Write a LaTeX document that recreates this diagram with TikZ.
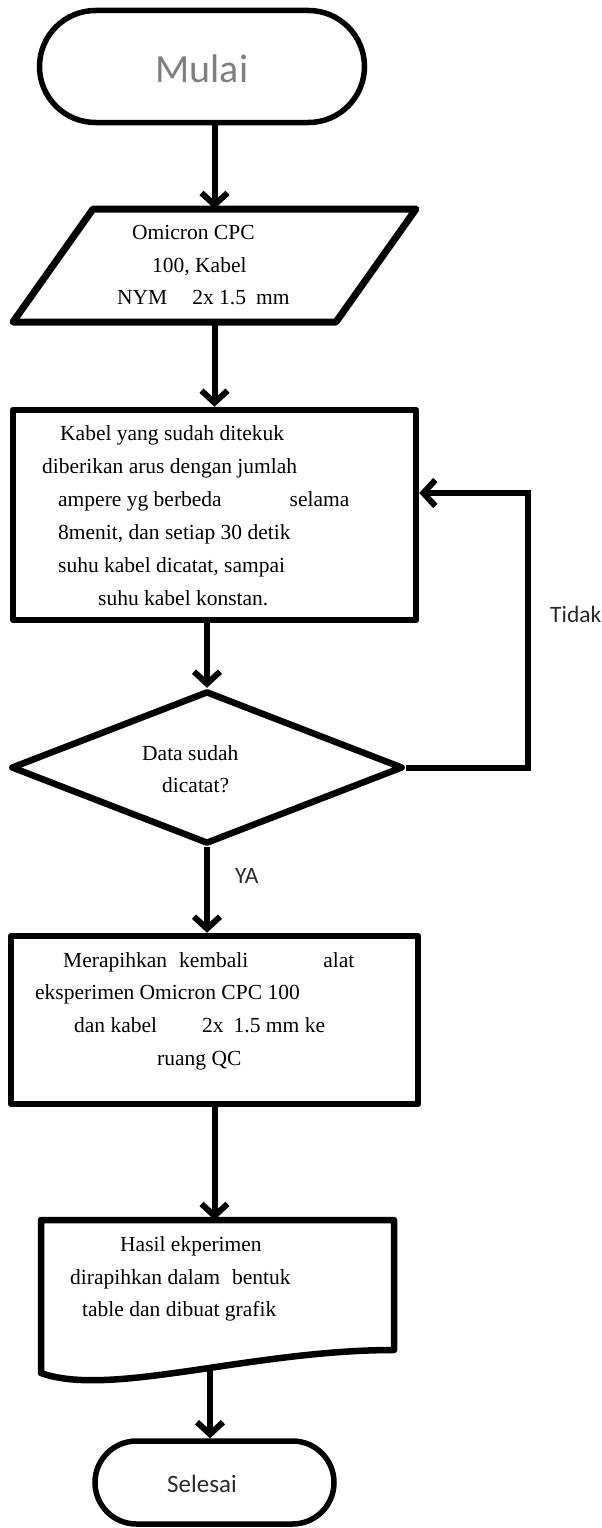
\documentclass[tikz,border=0pt]{standalone}
\usepackage{fontspec}
\setmainfont{Liberation Serif}
\newfontfamily\calfont{Carlito}
\usetikzlibrary{arrows.meta,calc,shapes.geometric}
\definecolor{mgray}{HTML}{7F7F7F}
\definecolor{tdark}{HTML}{2A2A2A}
\begin{document}
\begin{tikzpicture}[x=1pt,y=-1pt,
  shp/.style={draw, line width=6.5pt, line join=round, inner sep=0pt},
  term/.style={draw, line width=5.5pt, inner sep=0pt},
  ghost/.style={inner sep=0pt, outer sep=0pt},
  arr/.style={line width=6pt, -{Straight Barb[length=12pt,width=26pt]}},
  tx/.style={inner sep=0pt, anchor=north west, align=left},
  sans/.style={inner sep=0pt, text=tdark}]
\useasboundingbox (0,0) rectangle (602,1528);

% shapes
\node[term, minimum width=325pt, minimum height=112pt, rounded corners=56pt] (mulai) at (202,66.5) {};
\node[ghost, minimum width=403pt, minimum height=113pt] (inp) at (214.5,265.5) {};
\draw[shp, line width=7pt] ($(inp.north west)+(80,0)$) -- (inp.north east) -- ($(inp.south east)+(-80,0)$) -- (inp.south west) -- cycle;
\node[shp, rectangle, minimum width=403pt, minimum height=210pt] (b1) at (214.5,515) {};
\node[shp, diamond, minimum width=392pt, minimum height=153pt] (dec) at (207,767.5) {};
\node[shp, rectangle, minimum width=407pt, minimum height=168pt] (b2) at (214.5,1020) {};
\node[ghost, minimum width=353pt, minimum height=153pt] (doc) at (217.5,1296.5) {};
\draw[shp] ($(doc.south east)+(0,-23)$) -- (doc.north east) -- (doc.north west) -- (doc.south west)
  .. controls ($(doc.south west)+(69,25)$) and ($(doc.south west)+(209,-23)$) .. ($(doc.south east)+(0,-23)$) -- cycle;
\coordinate (w) at ($(doc.south west)+(169,-5)$);
\node[term, minimum width=239pt, minimum height=83pt, rounded corners=41.5pt] (sel) at (214.5,1482.5) {};

% texts
\node[sans, anchor=base, text=mgray, font=\calfont\fontsize{40}{48}\selectfont] (tm) at (202,82) {Mulai};
\node[tx, font=\fontsize{21.5}{32.5}\selectfont] (tinp) at (117,217)
  {\strut\hspace*{15pt}Omicron CPC\\ \strut\hspace*{35pt}100, Kabel\\ \strut NYM\hspace{25pt}2x 1.5\hspace{10pt}mm};
\node[tx, font=\fontsize{21.5}{33}\selectfont] (tb1) at (42,417)
  {\strut\hspace*{18pt}Kabel yang sudah ditekuk\\
   \strut diberikan arus dengan jumlah\\
   \strut\hspace*{16pt}ampere yg berbeda\hspace{68pt}selama\\
   \strut\hspace*{16pt}8menit, dan setiap 30 detik\\
   \strut\hspace*{16pt}suhu kabel dicatat, sampai\\
   \strut\hspace*{56pt}suhu kabel konstan.};
\node[tx, font=\fontsize{21.5}{32}\selectfont] (tdec) at (142,737.6)
  {\strut Data sudah\\ \strut\hspace*{20pt}dicatat?};
\node[sans, anchor=base west, font=\calfont\fontsize{23.5}{28}\selectfont] (tya) at (235,883) {YA};
\node[sans, anchor=base west, font=\calfont\fontsize{23.5}{28}\selectfont] (ttd) at (550,622) {Tidak};
\node[tx, font=\fontsize{21.5}{32.7}\selectfont] (tb2) at (35,944)
  {\strut\hspace*{28pt}Merapihkan\hspace{12pt}kembali\hspace{75pt}alat\\
   \strut eksperimen Omicron CPC 100\\
   \strut\hspace*{39pt}dan kabel\hspace{45pt}2x\hspace{10pt}1.5 mm ke\\
   \strut\hspace*{122pt}ruang QC};
\node[tx, font=\fontsize{21.5}{32.5}\selectfont] (tdoc) at (70,1229)
  {\strut\hspace*{50pt}Hasil ekperimen\\
   \strut dirapihkan dalam\hspace{12pt}bentuk\\
   \strut\hspace*{12pt}table dan dibuat grafik};
\node[sans, anchor=base, font=\calfont\fontsize{25}{30}\selectfont] (ts) at (202,1492) {Selesai};

% connectors
\draw[arr] (mulai.south -| inp.north) -- (inp.north);
\draw[arr] (inp.south) -- (b1.north);
\draw[arr] (b1.south -| dec.north) -- (dec.north);
\draw[arr] (dec.south) -- (dec.south |- b2.north);
\draw[arr] (b2.south) -- (b2.south |- doc.north);
\draw[arr] (w) -- (w |- sel.north);
\coordinate (lc) at (528,493);
\draw[arr] (dec.east) -| (lc) -- (lc -| b1.east);
\end{tikzpicture}
\end{document}
